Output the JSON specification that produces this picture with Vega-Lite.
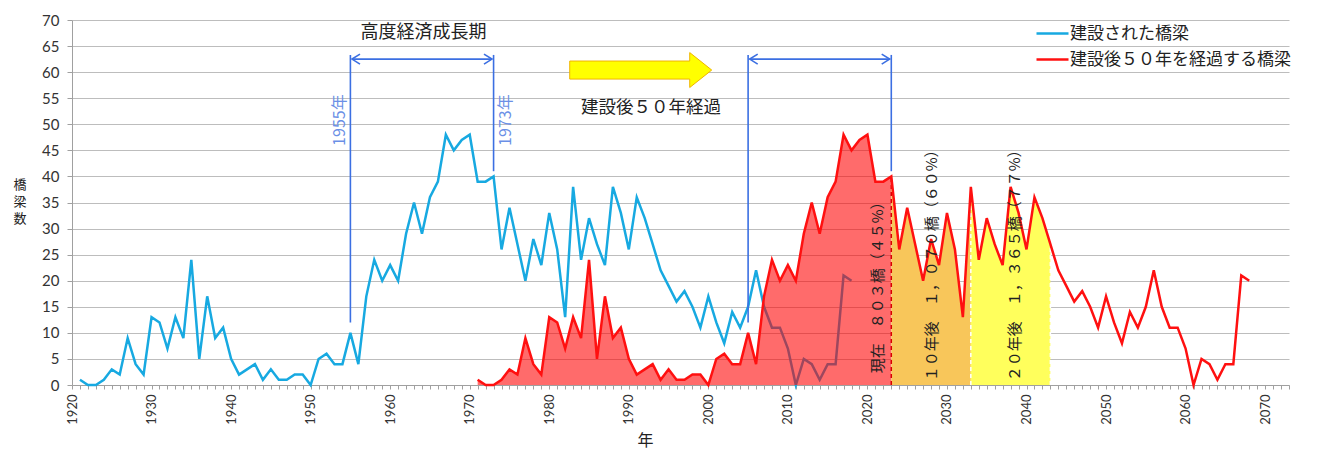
{
  "$schema": "https://vega.github.io/schema/vega-lite/v6.json",
  "width": 1217,
  "height": 365,
  "autosize": {"type": "none"},
  "padding": {"left": 72, "top": 20, "right": 30, "bottom": 73},
  "background": "white",
  "config": {
    "view": {"stroke": null},
    "font": "Lato",
    "axisX": {
      "tickCount": 153,
      "labelExpr": "datum.value % 10 === 0 ? '' + datum.value : ''",
      "labelAngle": 270, "labelAlign": "right", "labelBaseline": "middle",
      "labelFontSize": 13, "labelColor": "#333", "labelPadding": 5,
      "labelOverlap": false, "labelFlush": false, "labelBound": false,
      "tickSize": 4, "tickColor": "#a0a0a0", "domainColor": "#a0a0a0", "grid": false,
      "titleFont": "Noto Sans CJK JP", "titleFontSize": 16, "titleFontWeight": "normal", "titleColor": "#222",
      "titleX": 573, "titleY": 55, "titleBaseline": "middle", "titleAlign": "center"
    },
    "axisY": {
      "tickCount": 14,
      "labelFontSize": 15, "labelColor": "#333", "labelPadding": 8,
      "tickSize": 5, "tickColor": "#a0a0a0", "domainColor": "#a0a0a0",
      "grid": true, "gridColor": "#bdbdbd", "gridWidth": 1.2
    }
  },
  "datasets": {
    "built": [
      {"year":1921,"count":1},{"year":1922,"count":0},{"year":1923,"count":0},{"year":1924,"count":1},{"year":1925,"count":3},
      {"year":1926,"count":2},{"year":1927,"count":9},{"year":1928,"count":4},{"year":1929,"count":2},{"year":1930,"count":13},
      {"year":1931,"count":12},{"year":1932,"count":7},{"year":1933,"count":13},{"year":1934,"count":9},{"year":1935,"count":24},
      {"year":1936,"count":5},{"year":1937,"count":17},{"year":1938,"count":9},{"year":1939,"count":11},{"year":1940,"count":5},
      {"year":1941,"count":2},{"year":1942,"count":3},{"year":1943,"count":4},{"year":1944,"count":1},{"year":1945,"count":3},
      {"year":1946,"count":1},{"year":1947,"count":1},{"year":1948,"count":2},{"year":1949,"count":2},{"year":1950,"count":0},
      {"year":1951,"count":5},{"year":1952,"count":6},{"year":1953,"count":4},{"year":1954,"count":4},{"year":1955,"count":10},
      {"year":1956,"count":4},{"year":1957,"count":17},{"year":1958,"count":24},{"year":1959,"count":20},{"year":1960,"count":23},
      {"year":1961,"count":20},{"year":1962,"count":29},{"year":1963,"count":35},{"year":1964,"count":29},{"year":1965,"count":36},
      {"year":1966,"count":39},{"year":1967,"count":48},{"year":1968,"count":45},{"year":1969,"count":47},{"year":1970,"count":48},
      {"year":1971,"count":39},{"year":1972,"count":39},{"year":1973,"count":40},{"year":1974,"count":26},{"year":1975,"count":34},
      {"year":1976,"count":27},{"year":1977,"count":20},{"year":1978,"count":28},{"year":1979,"count":23},{"year":1980,"count":33},
      {"year":1981,"count":26},{"year":1982,"count":13},{"year":1983,"count":38},{"year":1984,"count":24},{"year":1985,"count":32},
      {"year":1986,"count":27},{"year":1987,"count":23},{"year":1988,"count":38},{"year":1989,"count":33},{"year":1990,"count":26},
      {"year":1991,"count":36},{"year":1992,"count":32},{"year":1993,"count":27},{"year":1994,"count":22},{"year":1995,"count":19},
      {"year":1996,"count":16},{"year":1997,"count":18},{"year":1998,"count":15},{"year":1999,"count":11},{"year":2000,"count":17},
      {"year":2001,"count":12},{"year":2002,"count":8},{"year":2003,"count":14},{"year":2004,"count":11},{"year":2005,"count":15},
      {"year":2006,"count":22},{"year":2007,"count":15},{"year":2008,"count":11},{"year":2009,"count":11},{"year":2010,"count":7},
      {"year":2011,"count":0},{"year":2012,"count":5},{"year":2013,"count":4},{"year":2014,"count":1},{"year":2015,"count":4},
      {"year":2016,"count":4},{"year":2017,"count":21},{"year":2018,"count":20}
    ],
    "aged": [
      {"year":1971,"count":1},{"year":1972,"count":0},{"year":1973,"count":0},{"year":1974,"count":1},{"year":1975,"count":3},
      {"year":1976,"count":2},{"year":1977,"count":9},{"year":1978,"count":4},{"year":1979,"count":2},{"year":1980,"count":13},
      {"year":1981,"count":12},{"year":1982,"count":7},{"year":1983,"count":13},{"year":1984,"count":9},{"year":1985,"count":24},
      {"year":1986,"count":5},{"year":1987,"count":17},{"year":1988,"count":9},{"year":1989,"count":11},{"year":1990,"count":5},
      {"year":1991,"count":2},{"year":1992,"count":3},{"year":1993,"count":4},{"year":1994,"count":1},{"year":1995,"count":3},
      {"year":1996,"count":1},{"year":1997,"count":1},{"year":1998,"count":2},{"year":1999,"count":2},{"year":2000,"count":0},
      {"year":2001,"count":5},{"year":2002,"count":6},{"year":2003,"count":4},{"year":2004,"count":4},{"year":2005,"count":10},
      {"year":2006,"count":4},{"year":2007,"count":17},{"year":2008,"count":24},{"year":2009,"count":20},{"year":2010,"count":23},
      {"year":2011,"count":20},{"year":2012,"count":29},{"year":2013,"count":35},{"year":2014,"count":29},{"year":2015,"count":36},
      {"year":2016,"count":39},{"year":2017,"count":48},{"year":2018,"count":45},{"year":2019,"count":47},{"year":2020,"count":48},
      {"year":2021,"count":39},{"year":2022,"count":39},{"year":2023,"count":40},{"year":2024,"count":26},{"year":2025,"count":34},
      {"year":2026,"count":27},{"year":2027,"count":20},{"year":2028,"count":28},{"year":2029,"count":23},{"year":2030,"count":33},
      {"year":2031,"count":26},{"year":2032,"count":13},{"year":2033,"count":38},{"year":2034,"count":24},{"year":2035,"count":32},
      {"year":2036,"count":27},{"year":2037,"count":23},{"year":2038,"count":38},{"year":2039,"count":33},{"year":2040,"count":26},
      {"year":2041,"count":36},{"year":2042,"count":32},{"year":2043,"count":27},{"year":2044,"count":22},{"year":2045,"count":19},
      {"year":2046,"count":16},{"year":2047,"count":18},{"year":2048,"count":15},{"year":2049,"count":11},{"year":2050,"count":17},
      {"year":2051,"count":12},{"year":2052,"count":8},{"year":2053,"count":14},{"year":2054,"count":11},{"year":2055,"count":15},
      {"year":2056,"count":22},{"year":2057,"count":15},{"year":2058,"count":11},{"year":2059,"count":11},{"year":2060,"count":7},
      {"year":2061,"count":0},{"year":2062,"count":5},{"year":2063,"count":4},{"year":2064,"count":1},{"year":2065,"count":4},
      {"year":2066,"count":4},{"year":2067,"count":21},{"year":2068,"count":20}
    ]
  },
  "layer": [
    {
      "data": {"name": "built"},
      "mark": {"type": "line", "strokeWidth": 2.5, "interpolate": "linear"},
      "encoding": {
        "x": {"field": "year", "type": "quantitative", "title": "年", "scale": {"domain": [1920, 2073], "nice": false, "zero": false}},
        "y": {"field": "count", "type": "quantitative", "title": null, "scale": {"domain": [0, 70], "nice": false}},
        "color": {
          "datum": "建設された橋梁",
          "scale": {"domain": ["建設された橋梁", "建設後５０年を経過する橋梁"], "range": ["#17a9e1", "#ff1010"]},
          "legend": {
            "orient": "none", "legendX": 963, "legendY": -4, "title": null,
            "symbolType": "stroke", "symbolSize": 1024, "symbolStrokeWidth": 2.5,
            "labelFont": "Noto Sans CJK JP", "labelFontSize": 17, "labelColor": "#222", "labelLimit": 400,
            "rowPadding": -6, "labelOffset": 0, "padding": 0
          }
        }
      }
    },
    {
      "data": {"name": "aged"},
      "transform": [{"filter": "datum.year <= 2023"}],
      "mark": {"type": "area", "color": "#ff0000", "opacity": 0.58},
      "encoding": {"x": {"field": "year", "type": "quantitative", "title": "年"}, "y": {"field": "count", "type": "quantitative", "title": null}, "y2": {"datum": 0}}
    },
    {
      "data": {"name": "aged"},
      "transform": [{"filter": "datum.year >= 2023 && datum.year <= 2033"}],
      "mark": {"type": "area", "color": "#f8c65a", "opacity": 1},
      "encoding": {"x": {"field": "year", "type": "quantitative", "title": "年"}, "y": {"field": "count", "type": "quantitative", "title": null}, "y2": {"datum": 0}}
    },
    {
      "data": {"name": "aged"},
      "transform": [{"filter": "datum.year >= 2033 && datum.year <= 2043"}],
      "mark": {"type": "area", "color": "#ffff5c", "opacity": 1},
      "encoding": {"x": {"field": "year", "type": "quantitative", "title": "年"}, "y": {"field": "count", "type": "quantitative", "title": null}, "y2": {"datum": 0}}
    },
    {
      "data": {"values": [{"a": 1}]},
      "mark": {"type": "rule", "color": "#d80000", "strokeWidth": 1.5, "strokeDash": [4, 3]},
      "encoding": {"x": {"datum": 2023, "type": "quantitative"}, "y": {"datum": 0, "type": "quantitative"}, "y2": {"datum": 40}}
    },
    {
      "data": {"values": [{"a": 1}]},
      "mark": {"type": "rule", "color": "#ffffff", "strokeWidth": 1.5, "strokeDash": [4, 3]},
      "encoding": {"x": {"datum": 2033, "type": "quantitative"}, "y": {"datum": 0, "type": "quantitative"}, "y2": {"datum": 38}}
    },
    {
      "data": {"values": [{"a": 1}]},
      "mark": {"type": "rule", "color": "#ffffff", "strokeWidth": 1.5, "strokeDash": [4, 3]},
      "encoding": {"x": {"datum": 2043, "type": "quantitative"}, "y": {"datum": 0, "type": "quantitative"}, "y2": {"datum": 27}}
    },
    {
      "data": {"name": "aged"},
      "mark": {"type": "line", "strokeWidth": 2.5, "interpolate": "linear"},
      "encoding": {"x": {"field": "year", "type": "quantitative", "title": "年"}, "y": {"field": "count", "type": "quantitative", "title": null}, "color": {"datum": "建設後５０年を経過する橋梁"}}
    },
    {
      "data": {"values": [{"a": 1}]},
      "mark": {"type": "rule", "color": "#3b6fe2", "strokeWidth": 1.6},
      "encoding": {"x": {"datum": 1955, "type": "quantitative"}, "y": {"datum": 12, "type": "quantitative"}, "y2": {"datum": 63.3}}
    },
    {
      "data": {"values": [{"a": 1}]},
      "mark": {"type": "rule", "color": "#3b6fe2", "strokeWidth": 1.6},
      "encoding": {"x": {"datum": 1973, "type": "quantitative"}, "y": {"datum": 41, "type": "quantitative"}, "y2": {"datum": 63.3}}
    },
    {
      "data": {"values": [{"a": 1}]},
      "mark": {"type": "rule", "color": "#3b6fe2", "strokeWidth": 1.6},
      "encoding": {"x": {"datum": 2005, "type": "quantitative"}, "y": {"datum": 12, "type": "quantitative"}, "y2": {"datum": 63.3}}
    },
    {
      "data": {"values": [{"a": 1}]},
      "mark": {"type": "rule", "color": "#3b6fe2", "strokeWidth": 1.6},
      "encoding": {"x": {"datum": 2023, "type": "quantitative"}, "y": {"datum": 41, "type": "quantitative"}, "y2": {"datum": 63.3}}
    },
    {
      "data": {"values": [{"a": 1}]},
      "mark": {"type": "rule", "color": "#3b6fe2", "strokeWidth": 1.6},
      "encoding": {"x": {"datum": 1955.2, "type": "quantitative"}, "x2": {"datum": 1972.8}, "y": {"datum": 62.5, "type": "quantitative"}}
    },
    {
      "data": {"values": [{"a": 1}]},
      "mark": {"type": "rule", "color": "#3b6fe2", "strokeWidth": 1.6},
      "encoding": {"x": {"datum": 2005.2, "type": "quantitative"}, "x2": {"datum": 2022.8}, "y": {"datum": 62.5, "type": "quantitative"}}
    },
    {
      "data": {"values": [{"a": 1}]},
      "mark": {"type": "point", "shape": "M1.6,-1L0,0L1.6,1", "filled": false, "size": 100, "stroke": "#3b6fe2", "strokeWidth": 1.6, "opacity": 1},
      "encoding": {"x": {"datum": 1955.2, "type": "quantitative"}, "y": {"datum": 62.5, "type": "quantitative"}}
    },
    {
      "data": {"values": [{"a": 1}]},
      "mark": {"type": "point", "shape": "M-1.6,-1L0,0L-1.6,1", "filled": false, "size": 100, "stroke": "#3b6fe2", "strokeWidth": 1.6, "opacity": 1},
      "encoding": {"x": {"datum": 1972.8, "type": "quantitative"}, "y": {"datum": 62.5, "type": "quantitative"}}
    },
    {
      "data": {"values": [{"a": 1}]},
      "mark": {"type": "point", "shape": "M1.6,-1L0,0L1.6,1", "filled": false, "size": 100, "stroke": "#3b6fe2", "strokeWidth": 1.6, "opacity": 1},
      "encoding": {"x": {"datum": 2005.2, "type": "quantitative"}, "y": {"datum": 62.5, "type": "quantitative"}}
    },
    {
      "data": {"values": [{"a": 1}]},
      "mark": {"type": "point", "shape": "M-1.6,-1L0,0L-1.6,1", "filled": false, "size": 100, "stroke": "#3b6fe2", "strokeWidth": 1.6, "opacity": 1},
      "encoding": {"x": {"datum": 2022.8, "type": "quantitative"}, "y": {"datum": 62.5, "type": "quantitative"}}
    },
    {
      "data": {"values": [{"a": 1}]},
      "mark": {"type": "point", "shape": "M-1,-0.127L0.69,-0.127L0.69,-0.246L1,0L0.69,0.246L0.69,0.127L-1,0.127Z", "filled": true, "size": 20164, "fill": "#ffff00", "stroke": "#f0b400", "strokeWidth": 1, "opacity": 1},
      "encoding": {"x": {"datum": 1991.5, "type": "quantitative"}, "y": {"datum": 60.4, "type": "quantitative"}}
    },
    {
      "data": {"values": [{"a": 1}]},
      "mark": {"type": "text", "text": ["橋", "梁", "数"], "font": "Noto Sans CJK JP", "fontSize": 13, "lineHeight": 17, "color": "#222", "align": "center", "baseline": "middle", "dx": -52},
      "encoding": {"x": {"datum": 1920, "type": "quantitative"}, "y": {"datum": 38.4, "type": "quantitative"}}
    },
    {
      "data": {"values": [{"a": 1}]},
      "mark": {"type": "text", "text": "高度経済成長期", "font": "Noto Sans CJK JP", "fontSize": 18, "color": "#222", "align": "center", "baseline": "middle"},
      "encoding": {"x": {"datum": 1964.2, "type": "quantitative"}, "y": {"datum": 67.5, "type": "quantitative"}}
    },
    {
      "data": {"values": [{"a": 1}]},
      "mark": {"type": "text", "text": "建設後５０年経過", "font": "Noto Sans CJK JP", "fontSize": 17.5, "color": "#222", "align": "center", "baseline": "middle"},
      "encoding": {"x": {"datum": 1992.8, "type": "quantitative"}, "y": {"datum": 53.1, "type": "quantitative"}}
    },
    {
      "data": {"values": [{"a": 1}]},
      "mark": {"type": "text", "text": "1955年", "font": "Noto Sans CJK JP", "fontSize": 16, "color": "#6b8fe6", "align": "center", "baseline": "middle", "angle": 270, "dy": -10},
      "encoding": {"x": {"datum": 1955, "type": "quantitative"}, "y": {"datum": 50.8, "type": "quantitative"}}
    },
    {
      "data": {"values": [{"a": 1}]},
      "mark": {"type": "text", "text": "1973年", "font": "Noto Sans CJK JP", "fontSize": 16, "color": "#6b8fe6", "align": "center", "baseline": "middle", "angle": 270, "dy": 12},
      "encoding": {"x": {"datum": 1973, "type": "quantitative"}, "y": {"datum": 50.8, "type": "quantitative"}}
    },
    {
      "data": {"values": [{"a": 1}]},
      "mark": {"type": "text", "text": "現在　８０３橋（４５%）", "font": "Noto Sans CJK JP", "fontSize": 15, "color": "#222", "align": "center", "baseline": "middle", "angle": 270},
      "encoding": {"x": {"datum": 2021.3, "type": "quantitative"}, "y": {"datum": 19.4, "type": "quantitative"}}
    },
    {
      "data": {"values": [{"a": 1}]},
      "mark": {"type": "text", "text": "１０年後　１，０７０橋（６０%）", "font": "Noto Sans CJK JP", "fontSize": 15, "color": "#222", "align": "center", "baseline": "middle", "angle": 270},
      "encoding": {"x": {"datum": 2028.1, "type": "quantitative"}, "y": {"datum": 23.6, "type": "quantitative"}}
    },
    {
      "data": {"values": [{"a": 1}]},
      "mark": {"type": "text", "text": "２０年後　１，３６５橋（７７%）", "font": "Noto Sans CJK JP", "fontSize": 15, "color": "#222", "align": "center", "baseline": "middle", "angle": 270},
      "encoding": {"x": {"datum": 2038.6, "type": "quantitative"}, "y": {"datum": 23.6, "type": "quantitative"}}
    }
  ]
}
